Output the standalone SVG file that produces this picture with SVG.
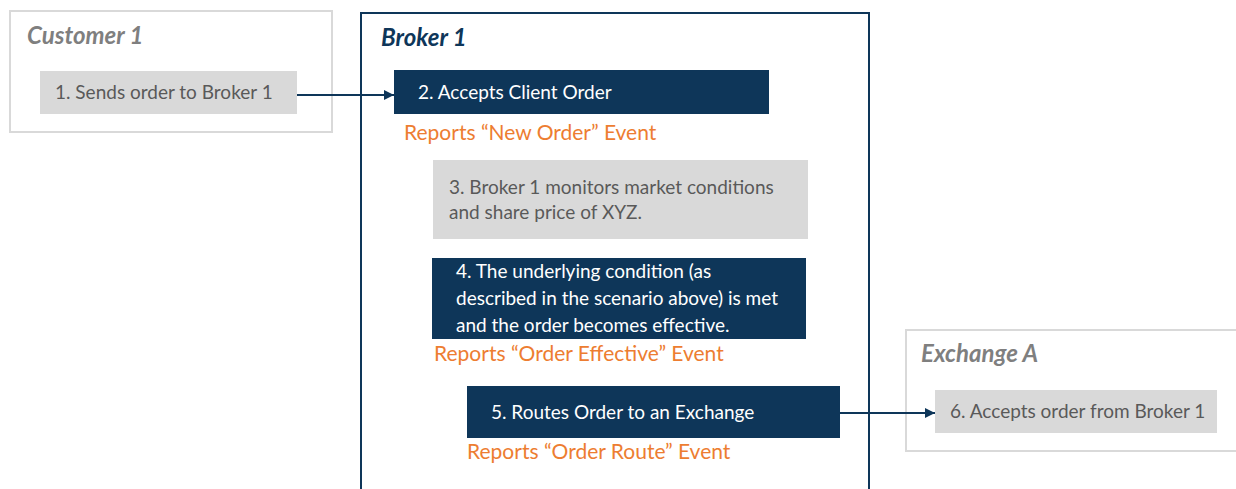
<svg xmlns="http://www.w3.org/2000/svg" width="1236" height="489" viewBox="0 0 1236 489">
<defs>
<style>
.t{font-family:Lato,"Open Sans","Liberation Sans",sans-serif;font-size:19px}
.o{font-family:Lato,"Open Sans","Liberation Sans",sans-serif;font-size:21px;fill:#ed7d31}
.title{font-family:Lato,"Open Sans","Liberation Sans",sans-serif;font-size:24px;font-weight:bold;font-style:italic}
.gray{fill:#595959}
.white{fill:#ffffff}
.gbox{fill:#ffffff;stroke:#d9d9d9;stroke-width:2}
.gnode{fill:#d9d9d9}
.dnode{fill:#0e3659}
.conn{stroke:#0e3659;stroke-width:2;fill:none}
</style>
<marker id="arr" viewBox="0 0 10 10" refX="10" refY="5" markerWidth="5" markerHeight="5" orient="auto" markerUnits="strokeWidth">
<path d="M0,0 L10,5 L0,10 z" fill="#0e3659"/>
</marker>
</defs>
<rect width="1236" height="489" fill="#ffffff"/>
<g id="customer1">
<rect class="gbox" x="10" y="11" width="322" height="121"/>
<text class="title" x="27" y="44" fill="#7f7f7f">Customer 1</text>
</g>
<g id="broker1">
<path d="M361,495 V13 H869 V495" fill="none" stroke="#0e3659" stroke-width="2"/>
<text class="title" x="381" y="46" fill="#0e3659">Broker 1</text>
</g>
<g id="exchangeA">
<rect class="gbox" x="906" y="330" width="340" height="121"/>
<text class="title" x="921" y="362" fill="#7f7f7f">Exchange A</text>
</g>
<g id="node1">
<rect class="gnode" x="40" y="71" width="257" height="43"/>
<text class="t gray" x="55" y="99">1. Sends order to Broker 1</text>
</g>
<g id="node2">
<rect class="dnode" x="394" y="70" width="375" height="44"/>
<text class="t white" x="418" y="99">2. Accepts Client Order</text>
<text class="o" x="404" y="140">Reports “New Order” Event</text>
</g>
<g id="node3">
<rect class="gnode" x="433" y="160" width="375" height="79"/>
<text class="t gray" x="449" y="194">3. Broker 1 monitors market conditions</text>
<text class="t gray" x="449" y="219">and share price of XYZ.</text>
</g>
<g id="node4">
<rect class="dnode" x="432" y="258" width="374" height="81"/>
<text class="t white" x="456" y="278">4. The underlying condition (as</text>
<text class="t white" x="456" y="305">described in the scenario above) is met</text>
<text class="t white" x="456" y="332">and the order becomes effective.</text>
<text class="o" x="434" y="361">Reports “Order Effective” Event</text>
</g>
<g id="node5">
<rect class="dnode" x="467" y="386" width="373" height="52"/>
<text class="t white" x="491" y="419">5. Routes Order to an Exchange</text>
<text class="o" x="467" y="459">Reports “Order Route” Event</text>
</g>
<g id="node6">
<rect class="gnode" x="935" y="390" width="282" height="43"/>
<text class="t gray" x="950" y="418">6. Accepts order from Broker 1</text>
</g>
<g id="connectors">
<line class="conn" x1="297" y1="95" x2="394" y2="95" marker-end="url(#arr)"/>
<line class="conn" x1="840" y1="413" x2="935" y2="413" marker-end="url(#arr)"/>
</g>
</svg>
